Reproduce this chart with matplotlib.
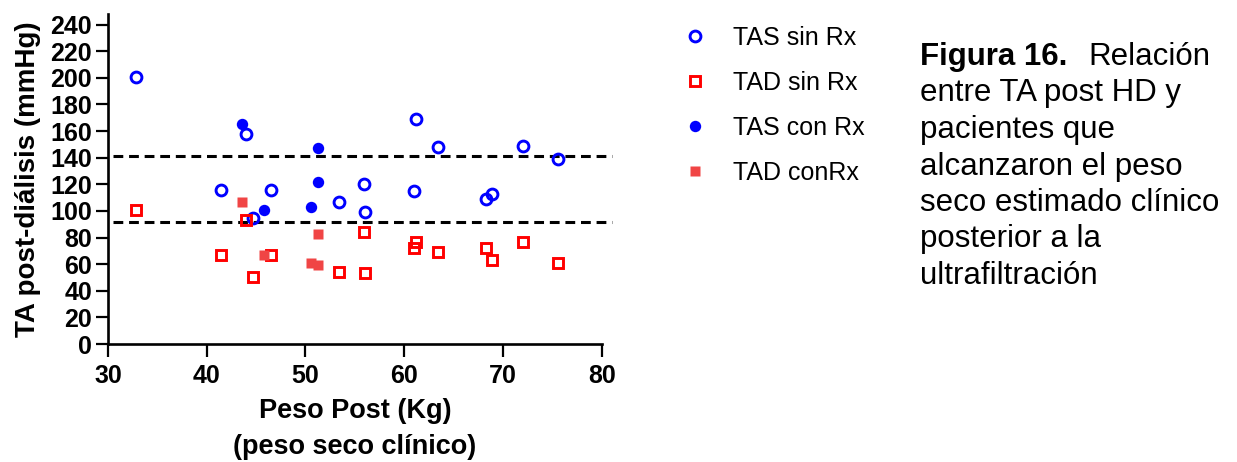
import matplotlib
matplotlib.use("Agg")
import matplotlib.pyplot as plt

plt.rcParams['font.family'] = ['Liberation Sans', 'DejaVu Sans']

# peso post (kg) and TA post-dialisis (mmHg)
peso_sin = [32.8, 41.4, 44.0, 44.7, 46.5, 53.4, 55.9, 56.0, 61.2, 61.0, 63.4, 68.3, 68.9, 72.0, 75.6]
tas_sin = [201, 116, 158, 95, 116, 107, 120, 99, 169, 115, 148, 109, 113, 149, 139]
tad_sin = [101, 67, 93, 50, 67, 54, 84, 53, 77, 72, 69, 72, 63, 77, 61]

peso_con = [43.6, 45.8, 50.6, 51.3, 51.3]
tas_con = [165, 101, 103, 147, 122]
tad_con = [107, 67, 61, 83, 59]

# reference lines
ref_lines = [141, 92]

xticks = [30, 40, 50, 60, 70, 80]
yticks = list(range(0, 241, 20))

caption_bold = "Figura 16."
caption_lines = ["Relación", "entre TA post HD y", "pacientes que",
                 "alcanzaron el peso", "seco estimado clínico",
                 "posterior a la", "ultrafiltración"]

W, H = 1237, 462
fig = plt.figure(figsize=(W / 100, H / 100), dpi=100)
ax = fig.add_axes([108 / W, 1 - 344 / H, (601.7 - 108) / W, (344 - 14) / H])

blue = '#0000ff'
red = '#ff0000'
red_fill = '#f04545'

ax.plot(peso_sin, tas_sin, 'o', ms=7.8, mfc='none', mec=blue, mew=2.1, label='TAS sin Rx', zorder=3)
ax.plot(peso_sin, tad_sin, 's', ms=7.0, mfc='none', mec=red, mew=2.1, label='TAD sin Rx', zorder=3)
ax.plot(peso_con, tas_con, 'o', ms=8.2, mfc=blue, mec='none', label='TAS con Rx', zorder=3)
ax.plot(peso_con, tad_con, 's', ms=7.8, mfc=red_fill, mec='none', label='TAD conRx', zorder=3)

for yv in ref_lines:
    ax.plot([30.5, 81.0], [yv, yv], color='black', lw=2.2,
            linestyle=(0, (3.2, 1.9)), clip_on=False, zorder=2)

ax.set_xlim(30, 80)
ax.set_ylim(0, 248)
ax.set_xticks(xticks)
ax.set_yticks(yticks)

for side in ['top', 'right']:
    ax.spines[side].set_visible(False)
for side in ['left', 'bottom']:
    ax.spines[side].set_linewidth(1.9)

ax.tick_params(axis='both', direction='out', length=9, width=1.6)
ax.tick_params(axis='x', pad=5.5)
ax.tick_params(axis='y', pad=2.6)
for lab in ax.get_xticklabels() + ax.get_yticklabels():
    lab.set_fontsize(18)
    lab.set_fontweight('bold')

ax.set_xlabel("Peso Post (Kg)\n(peso seco clínico)", fontsize=19.5,
              fontweight='bold', linespacing=1.5, labelpad=7)
ax.set_ylabel("TA post-diálisis (mmHg)", fontsize=20, fontweight='bold', labelpad=6.5)

fig.legend(loc='upper left', bbox_to_anchor=(682.5 / W, 1 - 26 / H),
           frameon=False, fontsize=18, handlelength=1.0, handletextpad=1.02,
           labelspacing=0.84, borderpad=0, borderaxespad=0)

# caption on the right
fig.text(920.5 / W, 1 - 65 / H, caption_bold, fontsize=22.5, fontweight='bold', va='baseline')
fig.text(1088.5 / W, 1 - 65 / H, caption_lines[0], fontsize=22.5, va='baseline')
for i, line in enumerate(caption_lines[1:], start=1):
    fig.text(920.5 / W, 1 - (65 + 36.5 * i) / H, line, fontsize=22.5, va='baseline')

fig.savefig("out.png", dpi=100)
